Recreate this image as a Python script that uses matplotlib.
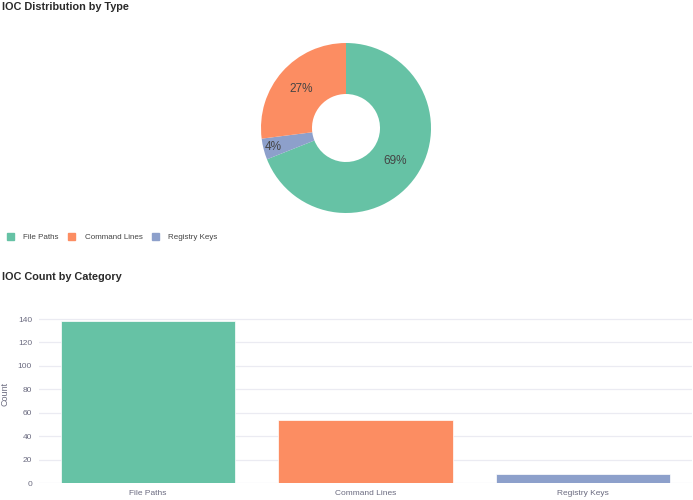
import matplotlib.pyplot as plt
from matplotlib.patches import Patch
from matplotlib.transforms import Bbox
import numpy as np

plt.rcParams['font.family'] = ['Liberation Sans', 'DejaVu Sans']

categories = ['File Paths', 'Command Lines', 'Registry Keys']
counts = [138, 54, 8]
colors = ['#66c2a5', '#fc8d62', '#8da0cb']
yticks = [0, 20, 40, 60, 80, 100, 120, 140]
# slice order going clockwise from the top, as in the picture
pie_order = [0, 2, 1]

fig = plt.figure(figsize=(6.93, 5.0), dpi=100)

# donut
ax1 = fig.add_axes([261 / 693, 1 - 213 / 500, 170 / 693, 170 / 500])
wedges, texts, autotexts = ax1.pie([counts[i] for i in pie_order],
                                   colors=[colors[i] for i in pie_order],
                                   startangle=90, counterclock=False,
                                   autopct='%1.0f%%', pctdistance=0.7,
                                   wedgeprops=dict(width=0.6, linewidth=0),
                                   textprops=dict(color='#444444', fontsize=8.5))
# small slice label pushed outward
for w, t in zip(wedges, autotexts):
    if w.theta2 - w.theta1 < 30:
        ang = np.deg2rad((w.theta1 + w.theta2) / 2)
        t.set_position((0.88 * np.cos(ang), 0.88 * np.sin(ang)))
ax1.set_xlim(-1, 1)
ax1.set_ylim(-1, 1)
fig.text(0.003, 0.997, 'IOC Distribution by Type', fontsize=7.8, fontweight='bold',
         color='#2a2a2a', va='top', ha='left')

handles = [Patch(color=c, label=l) for c, l in zip(colors, categories)]
leg = fig.legend(handles=handles, loc='center left', bbox_to_anchor=(0.0, 1 - 237 / 500),
                 ncol=3, frameon=False, fontsize=5.8, handlelength=0.9, handleheight=0.9,
                 handletextpad=1.15, columnspacing=1.15, labelcolor='#444444',
                 borderaxespad=0.45)
# the legend is cut off on the right in the original
for t in leg.get_texts():
    t.set_clip_box(Bbox([[0, 0], [217, 500]]))
    t.set_clip_on(True)

# bars
ax2 = fig.add_axes([39 / 693, 1 - 483 / 500, 653 / 693, 178 / 500])
ax2.bar(range(len(categories)), counts, width=0.8, color=colors,
        edgecolor='white', linewidth=0.5, zorder=3)
ax2.set_xlim(-0.5, 2.5)
ax2.set_ylim(0, 152)
ax2.set_yticks(yticks)
ax2.set_xticks(range(len(categories)))
ax2.set_xticklabels(categories)
ax2.grid(axis='y', color='#ebebf2', linewidth=0.9, zorder=0)
for s in ax2.spines.values():
    s.set_visible(False)
ax2.tick_params(length=0, labelsize=6, labelcolor='#6b6b80', pad=5)
ax2.set_ylabel('Count', fontsize=6.5, color='#6b6b80', labelpad=6)
fig.text(0.003, 1 - 277 / 500, 'IOC Count by Category', fontsize=7.8, fontweight='bold',
         color='#2a2a2a', va='center', ha='left')

fig.savefig('out.png', dpi=100)
